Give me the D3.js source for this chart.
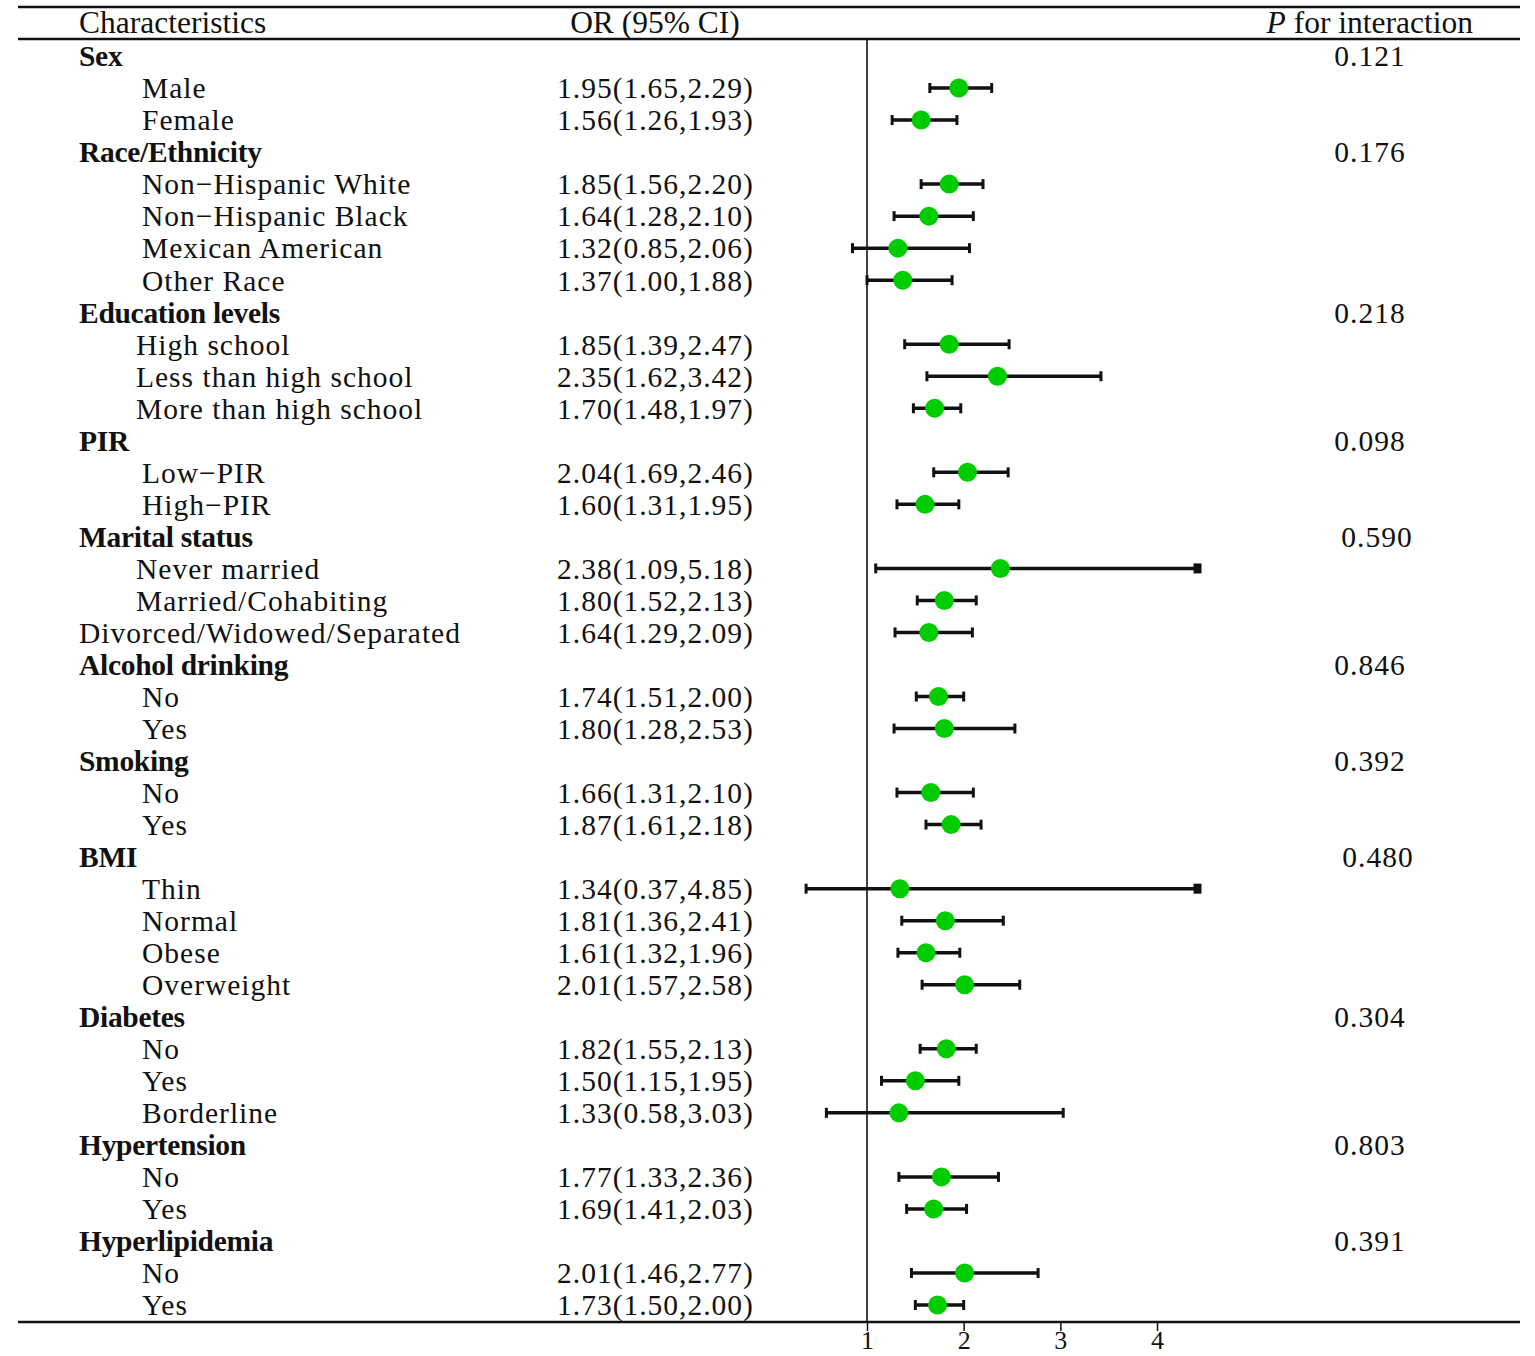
<!DOCTYPE html>
<html>
<head>
<meta charset="utf-8">
<script src="https://cdn.jsdelivr.net/npm/d3@7"></script>
<style>
  body { margin: 0; background: #fff; }
  text { font-family: "Liberation Serif", "Times New Roman", serif; fill: #111; }
</style>
</head>
<body>
<svg></svg>
<script>
var screen = {width: 1535, height: 1356};

// groups, their p for interaction and how many levels each has
var groupNames = ["Sex", "Race/Ethnicity", "Education levels", "PIR", "Marital status",
  "Alcohol drinking", "Smoking", "BMI", "Diabetes", "Hypertension", "Hyperlipidemia"];
var pInteraction = ["0.121", "0.176", "0.218", "0.098", "0.590", "0.846", "0.392",
  "0.480", "0.304", "0.803", "0.391"];
var groupSizes = [2, 4, 3, 2, 3, 2, 2, 4, 3, 2, 2];

// subgroup rows
var subgroups = ["Male", "Female",
  "Non\u2212Hispanic White", "Non\u2212Hispanic Black", "Mexican American", "Other Race",
  "High school", "Less than high school", "More than high school",
  "Low\u2212PIR", "High\u2212PIR",
  "Never married", "Married/Cohabiting", "Divorced/Widowed/Separated",
  "No", "Yes",
  "No", "Yes",
  "Thin", "Normal", "Obese", "Overweight",
  "No", "Yes", "Borderline",
  "No", "Yes",
  "No", "Yes"];
var orValues = [1.95, 1.56, 1.85, 1.64, 1.32, 1.37, 1.85, 2.35, 1.70, 2.04, 1.60,
  2.38, 1.80, 1.64, 1.74, 1.80, 1.66, 1.87, 1.34, 1.81, 1.61, 2.01, 1.82, 1.50, 1.33,
  1.77, 1.69, 2.01, 1.73];
var ciLow = [1.65, 1.26, 1.56, 1.28, 0.85, 1.00, 1.39, 1.62, 1.48, 1.69, 1.31,
  1.09, 1.52, 1.29, 1.51, 1.28, 1.31, 1.61, 0.37, 1.36, 1.32, 1.57, 1.55, 1.15, 0.58,
  1.33, 1.41, 1.46, 1.50];
var ciHigh = [2.29, 1.93, 2.20, 2.10, 2.06, 1.88, 2.47, 3.42, 1.97, 2.46, 1.95,
  5.18, 2.13, 2.09, 2.00, 2.53, 2.10, 2.18, 4.85, 2.41, 1.96, 2.58, 2.13, 1.95, 3.03,
  2.36, 2.03, 2.77, 2.00];

var xTicks = [1, 2, 3, 4];
var clipMax = 4.45;

// build the row table
var rows = [];
var k = 0;
groupNames.forEach(function(g, gi) {
  rows.push({type: "group", label: g, p: pInteraction[gi], group: g});
  for (var j = 0; j < groupSizes[gi]; j++) {
    rows.push({type: "item", label: subgroups[k], or: orValues[k], lo: ciLow[k], hi: ciHigh[k], group: g});
    k++;
  }
});

var indentByGroup = {"Education levels": 57, "Marital status": 57};
var pNudge = {"Marital status": 7, "BMI": 8};

var svg = d3.select("svg").attr("width", screen.width).attr("height", screen.height);

var yScale = d3.scalePoint().domain(d3.range(rows.length)).range([56, 1305]);
var xScale = d3.scaleLinear().domain([1, 4]).range([867, 1157]);

var left = 18, right = 1520, labelX = 79, orX = 557, pX = 1370;
var topLine = 7, headLine = 39, bottomLine = 1322;
var fs = 29.5;

// rules
svg.append("line").attr("x1", left).attr("x2", right).attr("y1", topLine).attr("y2", topLine)
  .attr("stroke", "#111").attr("stroke-width", 2.5);
svg.append("line").attr("x1", left).attr("x2", right).attr("y1", headLine).attr("y2", headLine)
  .attr("stroke", "#111").attr("stroke-width", 2.5);

// header
var head = svg.append("g").style("font-size", "31.5px");
head.append("text").attr("x", labelX).attr("y", 33).text("Characteristics");
head.append("text").attr("x", 655).attr("y", 33).attr("text-anchor", "middle").text("OR (95% CI)");
var ph = head.append("text").attr("x", 1473).attr("y", 33).attr("text-anchor", "end");
ph.append("tspan").style("font-style", "italic").text("P");
ph.append("tspan").text(" for interaction");

// reference line at OR = 1
svg.append("line").attr("x1", xScale(1)).attr("x2", xScale(1))
  .attr("y1", headLine).attr("y2", bottomLine).attr("stroke", "#111").attr("stroke-width", 1.6);

// x axis
var xAxis = d3.axisBottom(xScale).tickValues(xTicks).tickSize(9).tickPadding(0).tickFormat(d3.format("d"));
var ax = svg.append("g").attr("transform", "translate(0," + bottomLine + ")").call(xAxis);
ax.select(".domain").remove();
ax.selectAll(".tick line").attr("stroke", "#111").attr("stroke-width", 1.5);
ax.selectAll(".tick text").attr("y", 18).attr("dy", "0.35em")
  .style("font-family", "Liberation Serif, serif").style("font-size", "26px").attr("fill", "#111");
svg.append("line").attr("x1", left).attr("x2", right).attr("y1", bottomLine).attr("y2", bottomLine)
  .attr("stroke", "#111").attr("stroke-width", 2.5);

// row labels
var rowG = svg.append("g").selectAll("g").data(rows).enter().append("g")
  .attr("transform", function(d, i) { return "translate(0," + yScale(i) + ")"; });

rowG.append("text")
  .attr("x", function(d) {
    if (d.type === "group") return labelX;
    if (d.label === "Divorced/Widowed/Separated") return labelX;
    return labelX + (indentByGroup[d.group] || 63);
  })
  .attr("dy", "0.35em")
  .style("font-size", fs + "px")
  .style("font-weight", function(d) { return d.type === "group" ? "bold" : "normal"; })
  .style("letter-spacing", function(d) { return d.type === "group" ? "-0.3px" : "1px"; })
  .text(function(d) { return d.label; });

rowG.filter(function(d) { return d.type === "group"; }).append("text")
  .attr("x", function(d) { return pX + (pNudge[d.group] || 0); })
  .attr("dy", "0.35em").attr("text-anchor", "middle")
  .style("font-size", fs + "px").style("letter-spacing", "1px")
  .text(function(d) { return d.p; });

var items = rowG.filter(function(d) { return d.type === "item"; });

var f2 = d3.format(".2f");
items.append("text").attr("x", orX).attr("dy", "0.35em").style("font-size", fs + "px")
  .style("letter-spacing", "1px")
  .text(function(d) { return f2(d.or) + "(" + f2(d.lo) + "," + f2(d.hi) + ")"; });

// CI lines
items.append("line")
  .attr("x1", function(d) { return xScale(d.lo); })
  .attr("x2", function(d) { return xScale(Math.min(d.hi, clipMax)); })
  .attr("y1", 0).attr("y2", 0)
  .attr("stroke", "#111").attr("stroke-width", 3.5);

items.append("line")
  .attr("x1", function(d) { return xScale(d.lo); }).attr("x2", function(d) { return xScale(d.lo); })
  .attr("y1", -5).attr("y2", 5).attr("stroke", "#111").attr("stroke-width", 3);

items.filter(function(d) { return d.hi <= clipMax; }).append("line")
  .attr("x1", function(d) { return xScale(d.hi); }).attr("x2", function(d) { return xScale(d.hi); })
  .attr("y1", -5).attr("y2", 5).attr("stroke", "#111").attr("stroke-width", 3);

// clipped ends
items.filter(function(d) { return d.hi > clipMax; }).append("rect")
  .attr("x", xScale(clipMax) - 7).attr("y", -5).attr("width", 8).attr("height", 10)
  .attr("fill", "#111");

// points
items.append("circle")
  .attr("cx", function(d) { return xScale(d.or); })
  .attr("cy", 0).attr("r", 9.5).attr("fill", "#00cc00");
</script>
</body>
</html>
